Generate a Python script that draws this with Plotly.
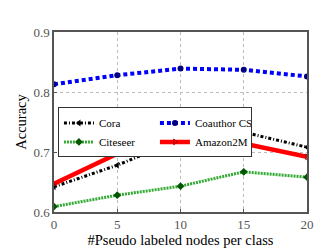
import plotly.graph_objects as go

x_vals = [0, 5, 10, 15, 20]
cora = [0.642, 0.678, 0.721, 0.733, 0.708]
citeseer = [0.609, 0.628, 0.643, 0.667, 0.658]
coauthor_cs = [0.813, 0.828, 0.839, 0.837, 0.826]
amazon2m = [0.647, 0.697, 0.700, 0.714, 0.692]

x_ticks = [0, 5, 10, 15, 20]
y_ticks = [0.6, 0.7, 0.8, 0.9]

FONT = "Liberation Serif"

fig = go.Figure()
fig.add_trace(go.Scatter(x=x_vals, y=cora, name="Cora", mode="lines+markers",
                         line=dict(color="black", width=3, dash="3px,2px,1px,2px"),
                         marker=dict(symbol="triangle-left", size=6, color="black")))
fig.add_trace(go.Scatter(x=x_vals, y=coauthor_cs, name="Coauthor CS", mode="lines+markers",
                         line=dict(color="#0000ff", width=4, dash="4px,3px"),
                         marker=dict(symbol="circle", size=6, color="#000080")))
fig.add_trace(go.Scatter(x=x_vals, y=citeseer, name="Citeseer", mode="lines+markers",
                         line=dict(color="#33aa33", width=3, dash="2px,1px"),
                         marker=dict(symbol="diamond", size=6, color="#005500")))
fig.add_trace(go.Scatter(x=x_vals, y=amazon2m, name="Amazon2M", mode="lines+markers",
                         line=dict(color="#ff0000", width=4.5),
                         marker=dict(symbol="triangle-right-open", size=5, color="#aa0000")))

axis_common = dict(showline=True, linecolor="#555555", linewidth=1.5, mirror=True,
                   showgrid=True, gridcolor="#bbbbbb", griddash="dot", gridwidth=1,
                   zeroline=False, ticks="inside", ticklen=3, tickcolor="#555555",
                   tickfont=dict(family=FONT, size=13, color="#555555"))

fig.update_xaxes(range=[0, 20], tickvals=x_ticks,
                 title=dict(text="#Pseudo labeled nodes per class",
                            font=dict(family=FONT, size=14.5, color="black"), standoff=3),
                 **axis_common)
fig.update_yaxes(range=[0.6, 0.9], tickvals=y_ticks, tickformat=".1f",
                 title=dict(text="Accuracy", font=dict(family=FONT, size=14.5, color="black"), standoff=3),
                 **axis_common)

fig.update_layout(
    width=332, height=249,
    margin=dict(l=43, r=33, t=24, b=34),
    plot_bgcolor="white", paper_bgcolor="white",
    font=dict(family=FONT, size=12, color="black"),
    legend=dict(orientation="h", x=0.0156, y=0.581, xanchor="left", yanchor="top",
                bgcolor="white", bordercolor="#333333", borderwidth=1,
                entrywidth=51, entrywidthmode="pixels", itemwidth=30,
                tracegroupgap=0,
                font=dict(family=FONT, size=11)),
)

fig.write_html("out.html")
